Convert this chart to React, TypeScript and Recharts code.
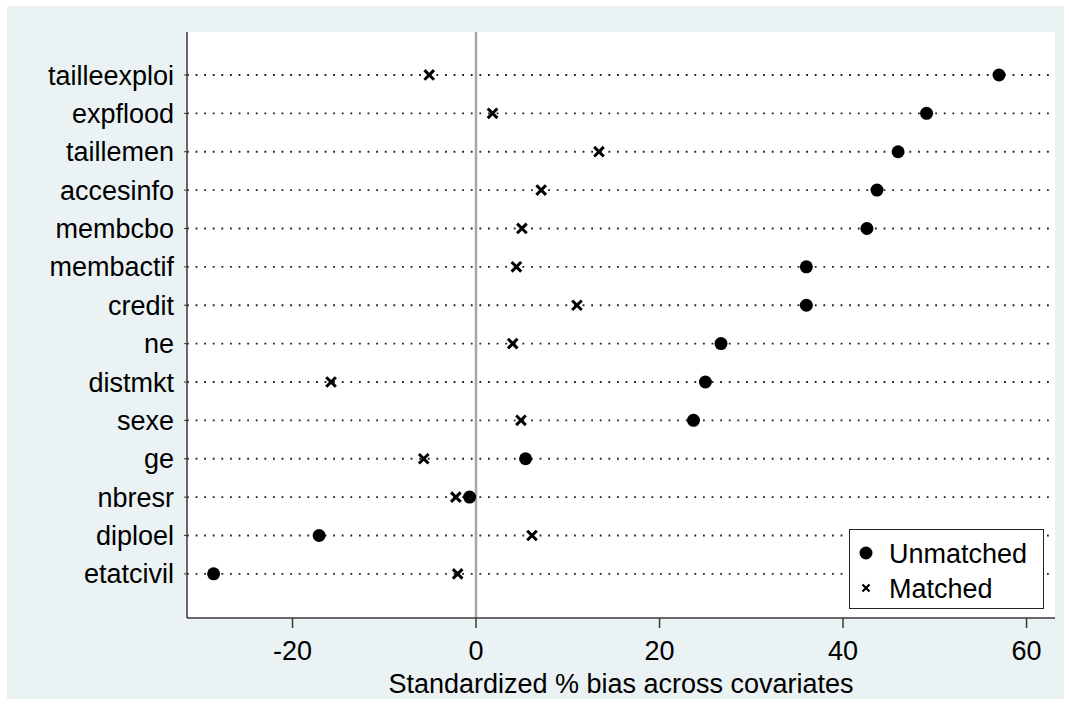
import React from 'react';
import { ScatterChart, Scatter, XAxis, YAxis, CartesianGrid, ReferenceLine } from 'recharts';

const covariates = [
  'tailleexploi', 'expflood', 'taillemen', 'accesinfo', 'membcbo', 'membactif', 'credit',
  'ne', 'distmkt', 'sexe', 'ge', 'nbresr', 'diploel', 'etatcivil',
];
const unmatched = [57.0, 49.1, 46.0, 43.7, 42.6, 36.0, 36.0, 26.7, 25.0, 23.7, 5.4, -0.7, -17.1, -28.6];
const matched = [-5.1, 1.8, 13.4, 7.1, 5.0, 4.4, 11.0, 4.0, -15.8, 4.9, -5.7, -2.2, 6.1, -2.0];
const xTicks = [-20, 0, 20, 40, 60];

const rowTicks = covariates.map((_, i) => i + 1);
const unmatchedData = covariates.map((name, i) => ({ name, x: unmatched[i], y: i + 1 }));
const matchedData = covariates.map((name, i) => ({ name, x: matched[i], y: i + 1 }));

const FONT = '"Liberation Sans", Arial, sans-serif';

const DotShape = (p: any) => <circle cx={p.cx} cy={p.cy} r={6.5} fill="#000" />;

const CrossShape = (p: any) => {
  const s = 4.8;
  const { cx, cy } = p;
  return (
    <path
      d={`M${cx - s},${cy - s}L${cx + s},${cy + s}M${cx - s},${cy + s}L${cx + s},${cy - s}`}
      stroke="#000"
      strokeWidth={3}
      fill="none"
    />
  );
};

const LegendBox: React.FC = () => (
  <div
    style={{
      position: 'absolute',
      left: 849,
      top: 529,
      width: 195,
      height: 80,
      boxSizing: 'border-box',
      border: '1.5px solid #222',
      background: '#fff',
    }}
  >
    <svg width={195} height={80} style={{ position: 'absolute', left: -1.5, top: -1.5 }}>
      <circle cx={17} cy={24} r={6.5} fill="#000" />
      <path d="M13.5,55.5L20.5,62.5M13.5,62.5L20.5,55.5" stroke="#000" strokeWidth={2.2} />
      <text x={40} y={24} dy="0.36em" fontSize={27} fontFamily={FONT} fill="#000">Unmatched</text>
      <text x={40} y={59} dy="0.36em" fontSize={27} fontFamily={FONT} fill="#000">Matched</text>
    </svg>
  </div>
);

export default function App() {
  return (
    <div style={{ position: 'relative', width: 1069, height: 709, background: '#fff' }}>
      <style>{'body{margin:0}'}</style>
      <div style={{ position: 'absolute', left: 7, top: 6, width: 1057, height: 693, background: '#EAF2F3' }} />
      <div style={{ position: 'absolute', left: 0, top: 0 }}>
        <ScatterChart width={1069} height={709} margin={{ top: 32, right: 14, left: 0, bottom: 0 }}>
          <CartesianGrid horizontal={false} vertical={false} fill="#fff" />
          <XAxis
            type="number"
            dataKey="x"
            domain={[-31.5, 63.1]}
            ticks={xTicks}
            height={91}
            allowDataOverflow
            axisLine={{ stroke: '#3a3a3a', strokeWidth: 1.5 }}
            tickLine={{ stroke: '#3a3a3a', strokeWidth: 1.5 }}
            tickSize={10}
            tickMargin={13}
            tick={{ fontSize: 27, fill: '#000', fontFamily: FONT }}
            label={{
              value: 'Standardized % bias across covariates',
              position: 'insideBottom',
              offset: 16,
              fontSize: 27,
              fill: '#000',
              fontFamily: FONT,
            }}
          />
          <YAxis
            type="number"
            dataKey="y"
            reversed
            domain={[-0.12, 15.15]}
            ticks={rowTicks}
            interval={0}
            width={187}
            allowDataOverflow
            axisLine={{ stroke: '#3a3a3a', strokeWidth: 1.5 }}
            tickLine={{ stroke: '#3a3a3a', strokeWidth: 1 }}
            tickSize={3}
            tickMargin={10}
            tickFormatter={(v: number) => covariates[v - 1] ?? ''}
            tick={{ fontSize: 27, fill: '#000', fontFamily: FONT }}
          />
          {rowTicks.map((t) => (
            <ReferenceLine
              key={t}
              y={t}
              stroke="#222"
              strokeWidth={1.8}
              strokeDasharray="1.8 6.8"
            />
          ))}
          <ReferenceLine x={0} stroke="#a6a6a6" strokeWidth={2.5} />
          <Scatter name="Unmatched" data={unmatchedData} shape={DotShape} isAnimationActive={false} />
          <Scatter name="Matched" data={matchedData} shape={CrossShape} isAnimationActive={false} />
        </ScatterChart>
      </div>
      <LegendBox />
    </div>
  );
}
